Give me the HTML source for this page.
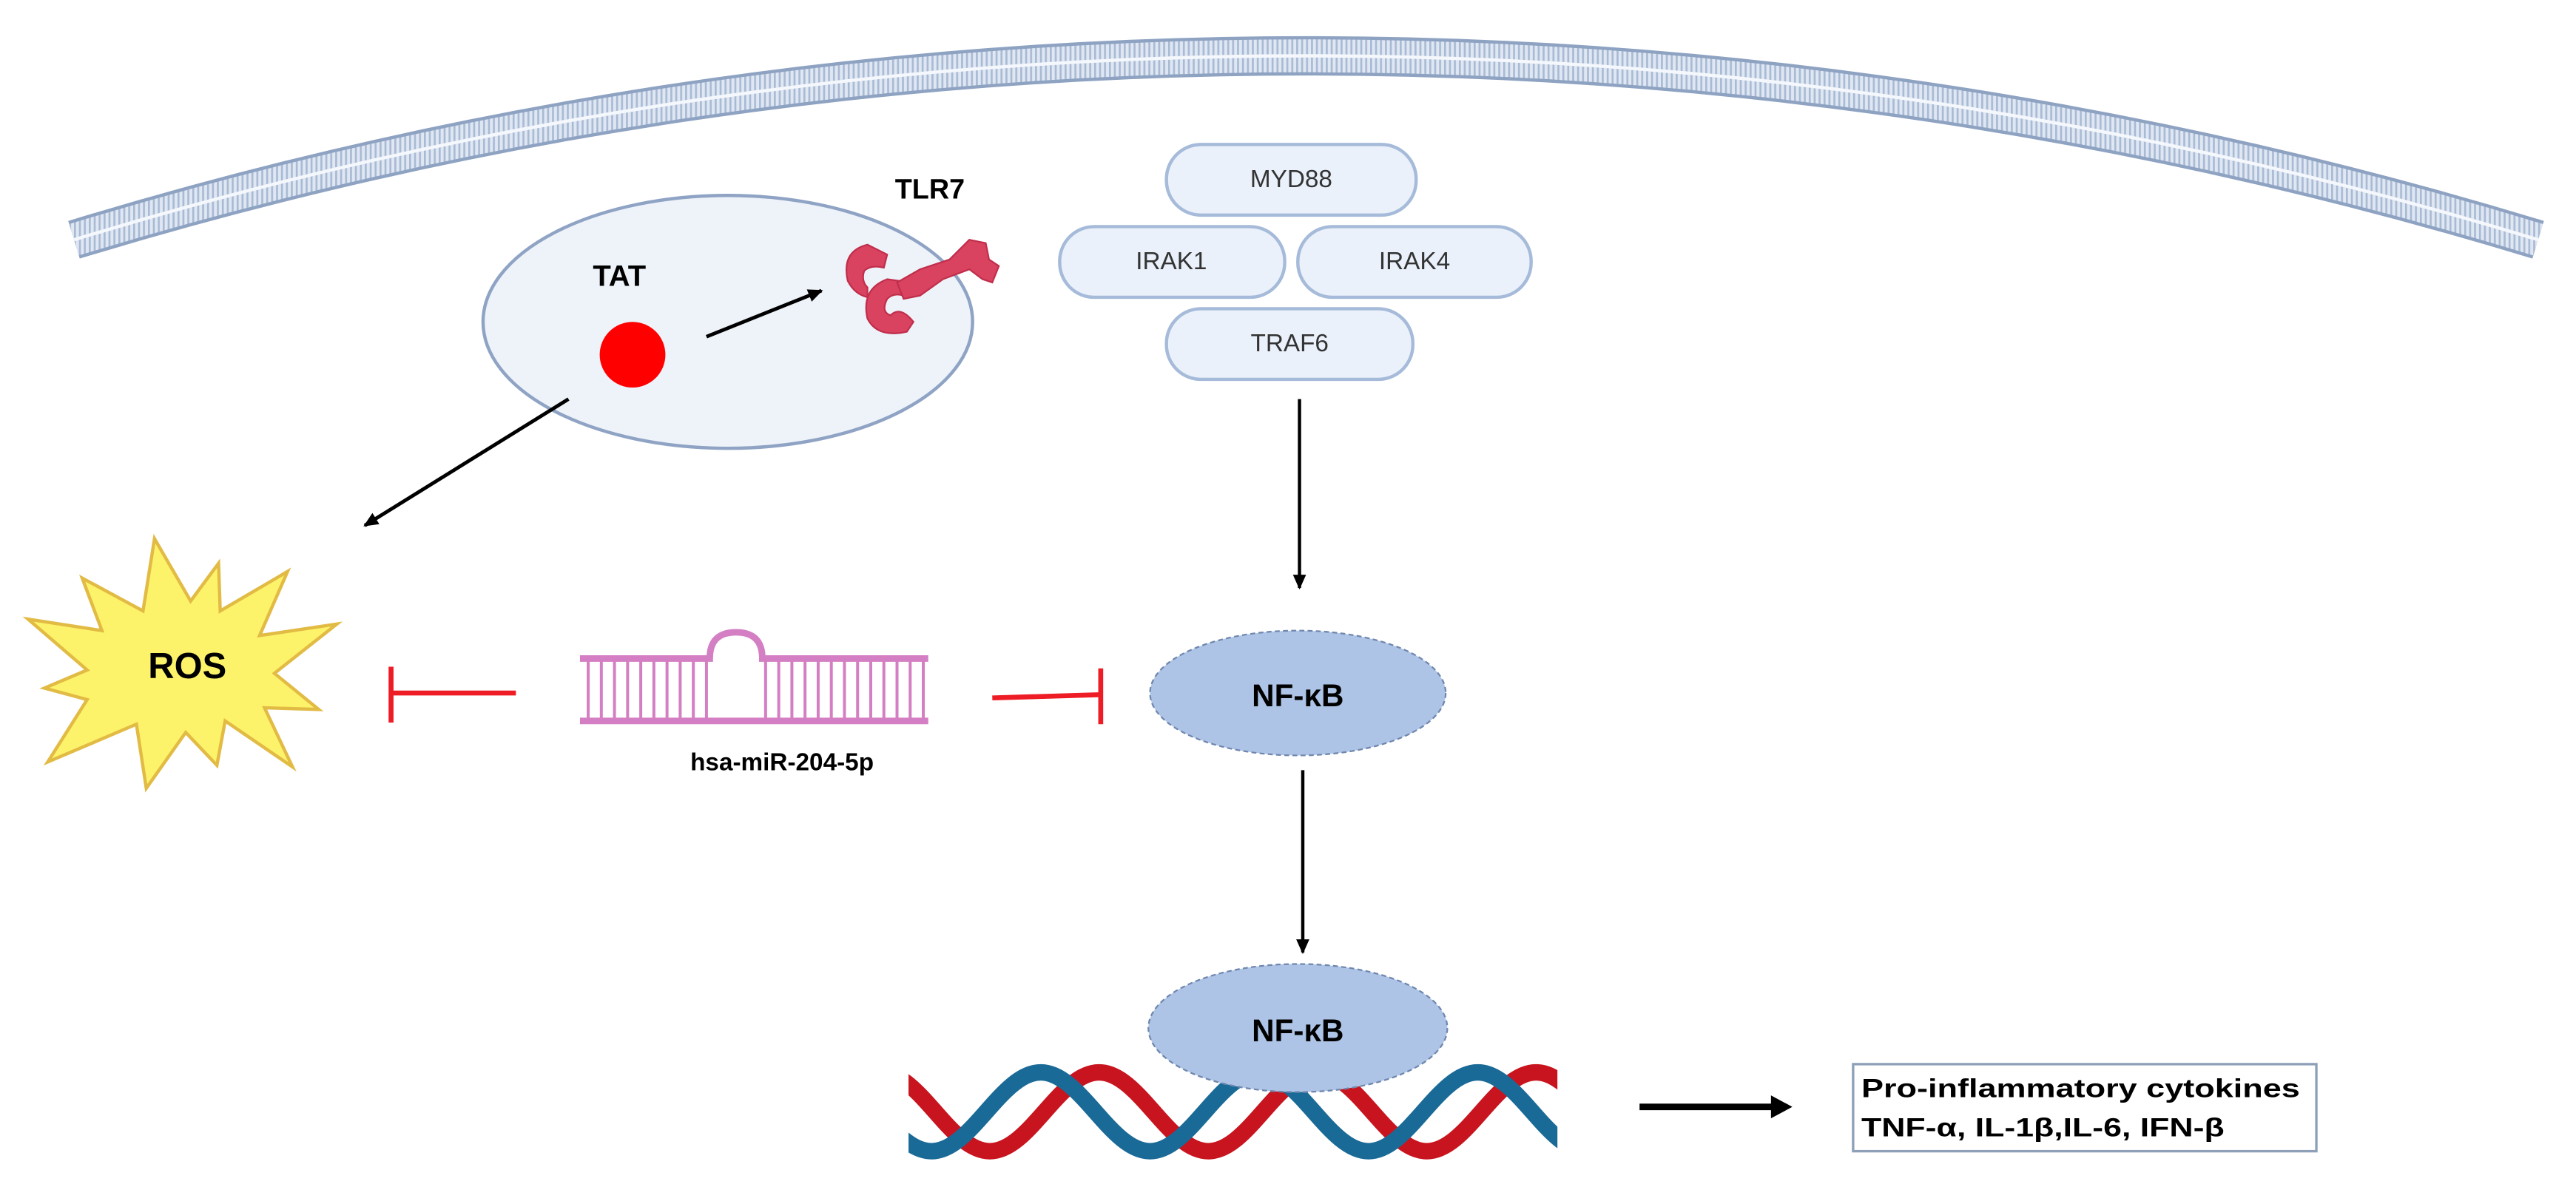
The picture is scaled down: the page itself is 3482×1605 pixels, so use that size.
<!DOCTYPE html>
<html><head><meta charset="utf-8"><style>
html,body{margin:0;padding:0;background:#fff;}
svg{display:block;}
text{font-family:"Liberation Sans",sans-serif;}
</style></head><body>
<svg width="3482" height="1605" viewBox="0 0 1568 722.8" xmlns="http://www.w3.org/2000/svg">
<defs>
<pattern id="stripes" width="3" height="3" patternUnits="userSpaceOnUse">
<rect width="3" height="3" fill="#dfe7f3"/><rect width="1.2" height="3" fill="#a9bad4"/>
</pattern>
<marker id="ar" markerWidth="10" markerHeight="10" refX="8" refY="5" orient="auto" markerUnits="userSpaceOnUse">
<path d="M0,1 L9,5 L0,9 z" fill="#000"/>
</marker>
<clipPath id="dnaclip"><rect x="553" y="600" width="395" height="120"/></clipPath>
</defs>
<!-- membrane -->
<path d="M45,146 A2567,2567 0 0 1 1545,146" fill="none" stroke="#8ea2c2" stroke-width="24"/>
<path d="M45,146 A2567,2567 0 0 1 1545,146" fill="none" stroke="url(#stripes)" stroke-width="20"/>
<path d="M45,146 A2567,2567 0 0 1 1545,146" fill="none" stroke="#f4f7fb" stroke-width="2"/>

<!-- TAT -->
<ellipse cx="443" cy="196" rx="149" ry="77" fill="#eef3fa" stroke="#8fa3c4" stroke-width="2"/>
<text x="377" y="174" font-size="18" font-weight="bold" text-anchor="middle">TAT</text>
<circle cx="385" cy="216" r="20" fill="#ff0000"/>
<line x1="430" y1="205" x2="500" y2="177" stroke="#000" stroke-width="2.2" marker-end="url(#ar)"/>

<!-- TLR7 -->
<text x="566" y="121" font-size="17" font-weight="bold" text-anchor="middle">TLR7</text>
<g fill="#d9435f" stroke="#c02e4b" stroke-width="1">
<path d="M528,149 q-16,4 -12,22 q4,8 12,10 l0,-6 q-4,-4 -2,-10 q4,-4 12,-2 l2,-8 z"/>
<path d="M540,170 q-16,6 -12,24 q6,12 24,8 l4,-6 q-8,-10 -14,-4 q-6,-2 -2,-10 q4,-4 10,-2 l4,-8 z"/>
<path d="M546,172 l14,-8 l18,-6 l12,-12 l10,2 l2,10 l6,4 l-4,10 l-6,-2 l-8,-6 l-16,6 l-14,10 l-10,2 z"/>
</g>

<!-- complex -->
<g fill="#eaf1fb" stroke="#a6bbd9" stroke-width="2">
<rect x="710" y="88" width="152" height="43" rx="21"/>
<rect x="645" y="138" width="137" height="43" rx="21"/>
<rect x="790" y="138" width="142" height="43" rx="21"/>
<rect x="710" y="188" width="150" height="43" rx="21"/>
</g>
<g font-size="15" fill="#333" text-anchor="middle">
<text x="786" y="114">MYD88</text>
<text x="713" y="164">IRAK1</text>
<text x="861" y="164">IRAK4</text>
<text x="785" y="214">TRAF6</text>
</g>
<line x1="791" y1="243" x2="791" y2="358" stroke="#000" stroke-width="2" marker-end="url(#ar)"/>
<line x1="346" y1="243" x2="222" y2="320" stroke="#000" stroke-width="2.2" marker-end="url(#ar)"/>

<!-- ROS -->
<polygon fill="#fdf36a" stroke="#e2bb45" stroke-width="2" points="
94,328 116,366 133,343 134,372 175,348 158,387 205,380 167,410 194,432 161,431 178,467 137,439 132,466 113,446 89,480 83,441 29,464 53,426 27,419 53,408 17,377 62,384 50,352 87,372"/>
<text x="114" y="413" font-size="22" font-weight="bold" text-anchor="middle">ROS</text>

<!-- inhibitions -->
<g stroke="#ee1c24" stroke-width="3" fill="none">
<line x1="314" y1="422" x2="238" y2="422"/>
<line x1="238" y1="406" x2="238" y2="440"/>
<line x1="604" y1="425" x2="670" y2="423"/>
<line x1="670" y1="407" x2="670" y2="441"/>
</g>

<!-- miRNA -->
<g stroke="#d47fc3" fill="none">
<path d="M353,401 H432 Q432,385 448,385 Q464,385 464,401 H565" stroke-width="4"/>
<line x1="353" y1="439" x2="565" y2="439" stroke-width="4"/>
<path stroke-width="1.8" d="M358,401V439M366,401V439M374,401V439M382,401V439M390,401V439M398,401V439M406,401V439M414,401V439M422,401V439M430,401V439M466,401V439M474,401V439M482,401V439M490,401V439M498,401V439M506,401V439M514,401V439M522,401V439M530,401V439M538,401V439M546,401V439M554,401V439M562,401V439"/>
</g>
<text x="476" y="469" font-size="15" font-weight="bold" text-anchor="middle">hsa-miR-204-5p</text>

<!-- NF-kB 1 -->
<ellipse cx="790" cy="422" rx="90" ry="38" fill="#adc4e6" stroke="#6f86ad" stroke-width="1" stroke-dasharray="3 2"/>
<text x="790" y="430" font-size="19" font-weight="bold" text-anchor="middle">NF-κB</text>
<line x1="793" y1="469" x2="793" y2="580" stroke="#000" stroke-width="2" marker-end="url(#ar)"/>

<!-- DNA -->
<g fill="none" stroke-width="10" clip-path="url(#dnaclip)">
<path stroke="#c8141e" d="M536,653 C560.2,653 578.3,701 602.5,701 C626.7,701 644.8,653 669,653 C693.2,653 711.3,701 735.5,701 C759.7,701 777.8,653 802,653 C826.2,653 844.3,701 868.5,701 C892.7,701 910.8,653 935,653 C959.2,653 977.3,701 1001.5,701"/>
<path stroke="#1a6a97" d="M500.5,653 C524.7,653 542.8,701 567,701 C591.2,701 609.3,653 633.5,653 C657.7,653 675.8,701 700,701 C724.2,701 742.3,653 766.5,653 C790.7,653 808.8,701 833,701 C857.2,701 875.3,653 899.5,653 C923.7,653 941.8,701 966,701"/>
</g>

<!-- NF-kB 2 -->
<ellipse cx="790" cy="626" rx="91" ry="39" fill="#adc4e6" stroke="#6f86ad" stroke-width="1" stroke-dasharray="3 2"/>
<text x="790" y="634" font-size="19" font-weight="bold" text-anchor="middle">NF-κB</text>

<!-- output arrow -->
<line x1="998" y1="674" x2="1080" y2="674" stroke="#000" stroke-width="4"/>
<path d="M1078,667 L1091,674 L1078,681 z" fill="#000"/>

<!-- box -->
<rect x="1128" y="648" width="282" height="53" fill="#fff" stroke="#8e9fb8" stroke-width="1.5"/>
<text x="1133" y="668" font-size="16" font-weight="bold" textLength="267" lengthAdjust="spacingAndGlyphs">Pro-inflammatory cytokines</text>
<text x="1133" y="692" font-size="16" font-weight="bold" textLength="221" lengthAdjust="spacingAndGlyphs">TNF-α, IL-1β,IL-6, IFN-β</text>
</svg>
</body></html>
